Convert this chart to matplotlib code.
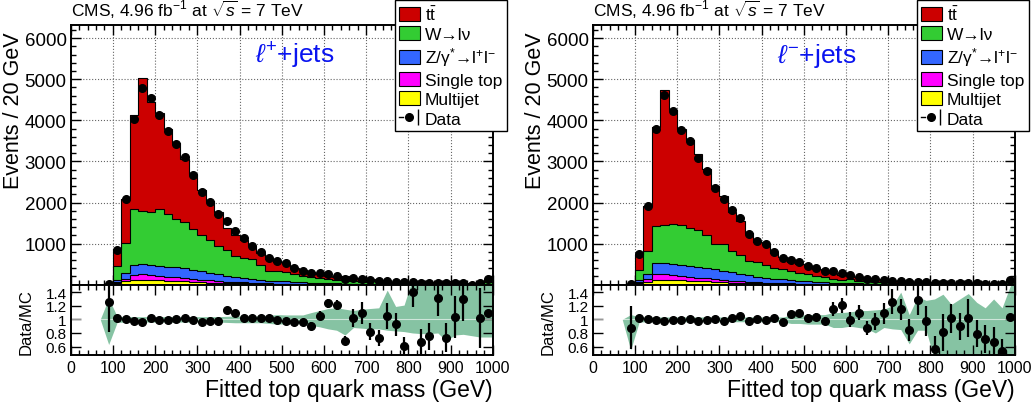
# CMS fitted top quark mass, l+ / l- jets, stacked MC + data with Data/MC ratio
import numpy as np
import matplotlib
matplotlib.use('Agg')
import matplotlib.pyplot as plt
from matplotlib.lines import Line2D
from matplotlib.patches import Patch
from matplotlib.legend_handler import HandlerTuple
from matplotlib.ticker import MultipleLocator, FixedLocator

plt.rcParams['font.family'] = ['Liberation Sans', 'DejaVu Sans']
plt.rcParams['mathtext.fontset'] = 'custom'
plt.rcParams['mathtext.rm'] = 'Liberation Sans'
plt.rcParams['mathtext.it'] = 'Liberation Sans:italic'
plt.rcParams['mathtext.bf'] = 'Liberation Sans:bold'

nan = np.nan

# --- binning (20 GeV bins, 80-1000 GeV) ---
edges = np.arange(80, 1001, 20)
centers = edges[:-1] + 10

# --- l+ jets ---
tt_p = [6, 407, 1055, 2295, 3215, 2680, 2325, 2075, 1860, 1535, 1345, 1095, 950, 820, 525, 510,
        455, 315, 300, 285, 230, 230, 155, 140, 125, 105, 80, 75, 85, 55, 45, 55, 50, 35, 30, 35,
        15, 30, 20, 15, 35, 25, 15, 15, 25, 50]
w_p = [10, 349, 749, 1352, 1309, 1285, 1385, 1275, 1180, 1125, 995, 885, 805, 695, 635, 520,
       480, 475, 350, 245, 240, 220, 195, 160, 135, 120, 95, 70, 100, 73, 56, 68, 55, 36, 32, 43,
       15, 36, 27, 18, 43, 29, 19, 15, 30, 55]
z_p = [0, 54, 126, 252, 246, 240, 250, 245, 240, 235, 220, 205, 185, 160, 140, 115, 105, 95,
       82, 68, 62, 55, 45, 38, 32, 28, 25, 22, 18, 16, 14, 12, 11, 10, 9, 8, 7, 6, 6, 5, 5, 4, 4,
       3, 3, 8]
st_p = [0, 30, 70, 120, 130, 125, 105, 95, 90, 80, 70, 65, 55, 45, 35, 30, 25, 19, 16, 13, 12,
        10, 9, 8, 7, 6, 5, 5, 4, 4, 3, 3, 3, 2, 2, 2, 2, 2, 1, 1, 1, 1, 1, 1, 1, 3]
mj_p = [0, 30, 80, 115, 120, 115, 110, 100, 90, 80, 70, 60, 50, 45, 40, 35, 30, 26, 22, 19, 16,
        14, 12, 10, 9, 8, 7, 6, 5, 5, 4, 4, 3, 3, 3, 2, 2, 2, 2, 2, 1, 1, 1, 1, 1, 3]
data_p = [20, 846, 2089, 4033, 4789, 4537, 4138, 3748, 3430, 3114, 2659, 2268, 2008, 1716, 1553,
          1309, 1125, 950, 785, 650, 570, 525, 400, 340, 276, 278, 260, 210, 146, 154, 130, 114,
          89, 89, 70, 55, 56, 50, 42, 52, 44, 41, 39, 0, 35, 130]
ratio_p = [1.26, 1.015, 1.005, 0.975, 0.956, 1.024, 0.995, 0.985, 1.0, 1.024, 0.995, 0.966, 0.97,
           0.97, 1.14, 1.10, 1.02, 1.02, 1.02, 1.024, 0.995, 0.98, 0.96, 0.956, 0.90, 1.054,
           1.234, 1.215, 0.683, 1.024, 1.093, 0.82, 0.73, 1.054, 0.927, 0.615, 1.405, 0.668,
           0.75, 1.32, 0.73, 1.03, 1.30, nan, 1.024, 1.088]
rerr_p = [0.44, 0.02, 0.015, 0.012, 0.012, 0.012, 0.012, 0.013, 0.014, 0.015, 0.016, 0.018, 0.02,
          0.022, 0.025, 0.028, 0.03, 0.033, 0.036, 0.04, 0.042, 0.045, 0.05, 0.055, 0.06, 0.065,
          0.07, 0.075, 0.065, 0.13, 0.16, 0.13, 0.12, 0.19, 0.17, 0.12, 0.22, 0.19, 0.2, 0.27,
          0.21, 0.31, 0.33, nan, 0.44, 0.05]
# MC uncertainty band (at 70, bin centres, 1000)
blo_p = [1.0, 0.63, 0.955, 0.96, 0.96, 0.96, 0.96, 0.96, 0.96, 0.96, 0.96, 0.96, 0.96, 0.96, 0.96,
         0.955, 0.95, 0.95, 0.95, 0.95, 0.94, 0.93, 0.935, 0.935, 0.935, 0.91, 0.89, 0.86, 0.84,
         0.77, 0.88, 0.87, 0.86, 0.86, 0.84, 0.83, 0.82, 0.8, 0.79, 0.79, 0.8, 0.68, 0.77, 0.78,
         0.76, 0.74, 0.74, 0.74]
bhi_p = [1.0, 1.31, 1.045, 1.04, 1.04, 1.04, 1.04, 1.04, 1.04, 1.04, 1.04, 1.04, 1.04, 1.04, 1.04,
         1.045, 1.05, 1.05, 1.05, 1.05, 1.06, 1.07, 1.065, 1.065, 1.065, 1.1, 1.13, 1.16, 1.17,
         1.15, 1.13, 1.15, 1.16, 1.17, 1.43, 1.19, 1.21, 1.6, 1.6, 1.6, 1.6, 1.6, 1.6, 1.6, 1.6,
         1.6, 1.6, 1.6]

# --- l- jets ---
tt_m = [11, 372, 1090, 2400, 3275, 2780, 2335, 2150, 1830, 1605, 1390, 1160, 970, 815, 675, 505,
        505, 377, 304, 222, 225, 195, 180, 160, 135, 115, 95, 85, 75, 65, 50, 35, 40, 35, 25, 25,
        30, 25, 20, 18, 16, 18, 17, 16, 20, 45]
w_m = [12, 244, 578, 919, 920, 960, 955, 915, 900, 805, 620, 645, 510, 460, 355, 350, 310, 255,
       250, 230, 185, 173, 140, 122, 100, 83, 94, 65, 64, 48, 36, 29, 31, 32, 18, 24, 30, 21, 17,
       17, 15, 15, 17, 16, 19, 41]
z_m = [0, 59, 112, 269, 270, 270, 275, 272, 267, 257, 246, 229, 200, 179, 152, 133, 117, 106, 93,
       79, 69, 59, 50, 40, 34, 28, 24, 19, 17, 14, 12, 10, 9, 8, 7, 6, 6, 5, 5, 4, 4, 4, 3, 3, 3, 8]
st_m = [0, 25, 65, 138, 147, 128, 110, 95, 85, 75, 66, 58, 50, 42, 35, 29, 24, 19, 16, 13, 11,
        10, 9, 8, 7, 6, 5, 5, 4, 4, 3, 3, 3, 2, 2, 2, 2, 2, 1, 1, 1, 1, 1, 1, 1, 3]
mj_m = [0, 30, 75, 114, 118, 112, 105, 98, 88, 78, 68, 58, 50, 44, 38, 33, 29, 25, 21, 18, 15,
        13, 11, 10, 9, 8, 7, 6, 5, 5, 4, 4, 3, 3, 3, 2, 2, 2, 2, 2, 1, 1, 1, 1, 1, 3]
data_m = [20, 749, 1920, 3790, 4627, 4220, 3757, 3500, 3080, 2773, 2350, 2082, 1822, 1620, 1236,
          1066, 985, 798, 660, 605, 555, 460, 405, 330, 328, 290, 224, 198, 143, 131, 114, 101,
          97, 67, 70, 59, 39, 45, 46, 38, 39, 32, 28, 26, 24, 103]
ratio_m = [0.878, 1.024, 1.005, 0.99, 0.976, 0.99, 0.995, 1.005, 0.97, 0.985, 1.005, 0.97, 1.024,
           1.054, 0.98, 1.0, 0.985, 1.02, 0.966, 1.083, 1.10, 1.024, 1.04, 0.976, 1.15, 1.21,
           0.995, 1.10, 0.87, 0.97, 1.088, 1.26, 1.146, 0.844, 1.283, 0.976, 0.56, 0.81, 1.015,
           0.90, 1.02, 0.79, 0.71, 0.673, 0.53, 1.03]
rerr_m = [0.32, 0.02, 0.015, 0.012, 0.012, 0.012, 0.012, 0.013, 0.014, 0.015, 0.016, 0.018, 0.02,
          0.022, 0.025, 0.028, 0.03, 0.033, 0.036, 0.04, 0.045, 0.048, 0.05, 0.055, 0.1, 0.11,
          0.11, 0.11, 0.1, 0.12, 0.16, 0.18, 0.16, 0.16, 0.22, 0.22, 0.2, 0.27, 0.21, 0.2, 0.28,
          0.2, 0.2, 0.22, 0.18, 0.05]
blo_m = [1.0, 0.55, 0.96, 0.965, 0.965, 0.965, 0.965, 0.965, 0.965, 0.965, 0.965, 0.965, 0.965,
         0.965, 0.965, 0.965, 0.965, 0.965, 0.965, 0.965, 0.94, 0.94, 0.93, 0.93, 0.93, 0.88,
         0.88, 0.9, 0.88, 0.86, 0.8, 0.88, 0.86, 0.85, 0.64, 0.84, 0.84, 0.4, 0.4, 0.4, 0.4, 0.4,
         0.4, 0.4, 0.4, 0.4, 0.4, 0.4]
bhi_m = [1.0, 1.07, 1.04, 1.035, 1.035, 1.035, 1.035, 1.035, 1.035, 1.035, 1.035, 1.035, 1.035,
         1.035, 1.035, 1.035, 1.035, 1.035, 1.035, 1.035, 1.06, 1.06, 1.07, 1.07, 1.07, 1.1, 1.1,
         1.11, 1.13, 1.13, 1.14, 1.15, 1.2, 1.4, 1.07, 1.33, 1.28, 1.3, 1.37, 1.22, 1.3, 1.38,
         1.25, 1.17, 1.3, 1.17, 1.5, 1.55]

band_x = np.r_[edges[0] - 10, centers, edges[-1]]

labels = [r't$\bar{\rm t}$', 'W→lν', r'Z/γ$^{*}$→l$^{+}$l$^{-}$', 'Single top', 'Multijet']
colors = ['#cc0000', '#33cc33', '#3366ff', '#ff00ff', '#ffff00']
band_col = '#86c3a3'

W, H = 1033, 410
fig = plt.figure(figsize=(W / 100, H / 100), dpi=100)


def box(x0, y0, w, h):
    return [x0 / W, 1 - (y0 + h) / H, w / W, h / H]


def panel(x0, comps, data, ratio, rerr, blo, bhi, tag):
    ax = fig.add_axes(box(x0, 26, 422, 259.7))
    rx = fig.add_axes(box(x0, 285.7, 422, 70))

    # stack: multijet at bottom, ttbar on top
    bottom = np.zeros(len(centers))
    for vals, col in zip(comps[::-1], colors[::-1]):
        top = bottom + np.array(vals)
        ax.stairs(top, edges, baseline=bottom, fill=True, color=col, lw=0, zorder=2)
        ax.stairs(top, edges, baseline=None, color='k', lw=0.8, zorder=2.1)
        bottom = top
    ax.plot(centers, data, 'o', color='k', ms=5.5, zorder=4, clip_on=False)

    ax.set_xlim(0, 1000)
    ax.set_ylim(0, 6320)
    ax.xaxis.set_major_locator(MultipleLocator(100))
    ax.xaxis.set_minor_locator(MultipleLocator(20))
    ax.yaxis.set_major_locator(FixedLocator([1000, 2000, 3000, 4000, 5000, 6000]))
    ax.yaxis.set_minor_locator(MultipleLocator(200))
    ax.grid(True, which='major', ls=':', color='#666666', lw=0.8, zorder=0)
    ax.set_axisbelow(True)
    ax.tick_params(which='both', direction='in', top=True, right=True, labelbottom=False,
                   labelsize=13.5, pad=3, width=1)
    ax.tick_params(which='major', length=7)
    ax.tick_params(which='minor', length=3.5)
    for s in ax.spines.values():
        s.set_linewidth(1.4)

    ax.text(0.0, 1.02, r'CMS, 4.96 fb$^{-1}$ at $\sqrt{s}$ = 7 TeV', transform=ax.transAxes,
            fontsize=12.5, ha='left', va='bottom')
    ax.text(0.53, 0.885, tag, transform=ax.transAxes, fontsize=19, color='#0a14f0',
            ha='center', va='center')
    fig.text((x0 - 57.5) / W, 1 - 32 / H, 'Events / 20 GeV', rotation=90, ha='center',
             va='top', fontsize=15.5)

    handles = [Patch(facecolor=c, edgecolor='k', lw=0.8) for c in colors]
    data_h = (Line2D([0], [0], color='k', lw=1),
              Line2D([0], [0], color='k', marker='o', ms=5.5, ls='none'),
              Line2D([0], [0], color='k', marker='|', ms=11, mew=1, ls='none'))
    leg = ax.legend(handles + [data_h], labels + ['Data'], loc='upper left',
                    bbox_to_anchor=((x0 + 324) / W, 1 - 1 / H), bbox_transform=fig.transFigure,
                    fontsize=12.5, frameon=True, fancybox=False, edgecolor='k', framealpha=1,
                    borderpad=0.25, labelspacing=0.2, handlelength=1.2, handleheight=0.85,
                    handletextpad=0.3, borderaxespad=0,
                    handler_map={tuple: HandlerTuple(ndivide=None)})
    leg.get_frame().set_linewidth(1.0)
    leg.set_zorder(10)

    # ratio panel
    rx.fill_between(band_x, blo, bhi, color=band_col, lw=0, zorder=1)
    rx.axhline(1, color='white', lw=0.8, alpha=0.6, zorder=2)
    rx.errorbar(centers, ratio, yerr=rerr, fmt='o', color='k', ms=5.5, elinewidth=1.6,
                capsize=0, zorder=3)
    rx.set_xlim(0, 1000)
    rx.set_ylim(0.48, 1.51)
    rx.xaxis.set_major_locator(MultipleLocator(100))
    rx.xaxis.set_minor_locator(MultipleLocator(20))
    rx.set_yticks([0.6, 0.8, 1.0, 1.2, 1.4], ['0.6', '0.8', '1', '1.2', '1.4'])
    rx.tick_params(which='both', direction='in', top=True, right=True, width=1, pad=3)
    rx.tick_params(axis='x', labelsize=11.5, pad=4)
    rx.tick_params(axis='y', labelsize=11)
    rx.tick_params(which='major', length=7)
    rx.tick_params(which='minor', length=3.5)
    for s in rx.spines.values():
        s.set_linewidth(1.4)
    rx.set_xlabel('Fitted top quark mass (GeV)', fontsize=16.5, loc='right', labelpad=2)
    fig.text((x0 - 45) / W, 1 - 322 / H, 'Data/MC', rotation=90, ha='center', va='center',
             fontsize=12)


panel(70.7, [tt_p, w_p, z_p, st_p, mj_p], data_p, ratio_p, rerr_p, blo_p, bhi_p,
      r'$\ell^{+}$+jets')
panel(592.7, [tt_m, w_m, z_m, st_m, mj_m], data_m, ratio_m, rerr_m, blo_m, bhi_m,
      r'$\ell^{-}$+jets')

fig.savefig('out.png', dpi=100)
